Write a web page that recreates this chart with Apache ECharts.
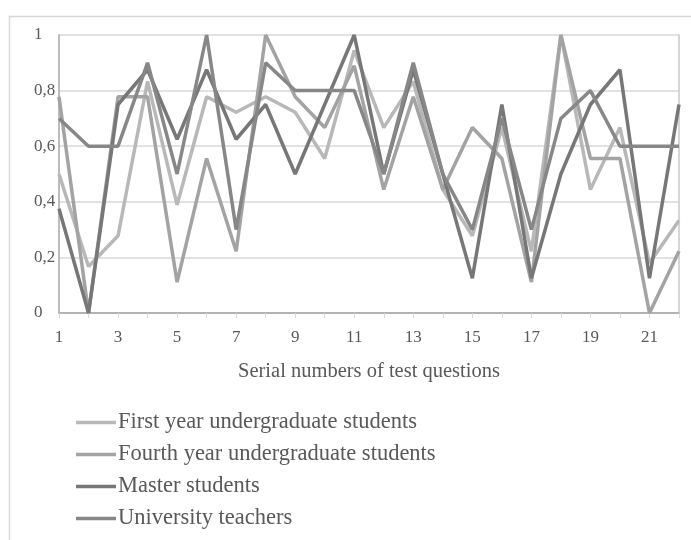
<!DOCTYPE html>
<html>
<head>
<meta charset="utf-8">
<script src="https://cdn.jsdelivr.net/npm/echarts@6/dist/echarts.min.js"></script>
<style>html,body{margin:0;padding:0;background:#fff}#chart{width:691px;height:540px}</style>
</head>
<body>
<div id="chart"></div>
<script>
const categories = ['1','2','3','4','5','6','7','8','9','10','11','12','13','14','15','16','17','18','19','20','21','22'];
const firstYear  = [0.5,0.167,0.278,0.833,0.389,0.778,0.722,0.778,0.722,0.556,0.944,0.667,0.833,0.444,0.278,0.667,0.222,1,0.444,0.667,0.18,0.333];
const fourthYear = [0.778,0,0.778,0.778,0.111,0.556,0.222,1,0.778,0.667,0.889,0.444,0.778,0.444,0.667,0.556,0.111,1,0.556,0.556,0,0.222];
const master     = [0.375,0,0.75,0.875,0.625,0.875,0.625,0.75,0.5,0.75,1,0.5,0.875,0.5,0.125,0.75,0.125,0.5,0.75,0.875,0.125,0.75];
const teachers   = [0.7,0.6,0.6,0.9,0.5,1,0.3,0.9,0.8,0.8,0.8,0.5,0.9,0.5,0.3,0.7,0.3,0.7,0.8,0.6,0.6,0.6];
const seriesNames = ['First year undergraduate students','Fourth year undergraduate students','Master students','University teachers'];
const xTitle = 'Serial numbers of test questions';

const font = "'Liberation Serif', 'DejaVu Serif', serif";
const textColor = '#595959';
const colors = ['#b8b8b8','#a3a3a3','#777777','#878787'];
const dataSets = [firstYear, fourthYear, master, teachers];

const chart = echarts.init(document.getElementById('chart'), null, {renderer:'canvas'});
chart.setOption({
  animation: false,
  backgroundColor: '#ffffff',
  color: colors,
  graphic: [{
    type: 'rect', left: 7, top: 14, silent: true, z: -10,
    shape: {width: 800, height: 700},
    style: {fill: 'none', stroke: '#d9d9d9', lineWidth: 1.5}
  }],
  grid: {left: 59, right: 12, top: 35, bottom: 227, containLabel: false},
  legend: {
    orient: 'vertical', left: 71, top: 405.5,
    itemWidth: 40, itemHeight: 3.5, itemGap: 8,
    icon: 'rect',
    data: seriesNames,
    textStyle: {fontFamily: font, fontSize: 22.5, color: textColor, lineHeight: 24, padding: [0,0,0,-3]}
  },
  xAxis: [{
    type: 'category', data: categories, boundaryGap: false,
    axisLine: {lineStyle: {color: '#d9d9d9', width: 1.5}},
    axisTick: {show: true, interval: 0, length: 5, lineStyle: {color: '#d9d9d9'}},
    axisLabel: {interval: 1, margin: 16, fontFamily: font, fontSize: 17, color: textColor},
    name: xTitle, nameLocation: 'middle', nameGap: 48,
    nameTextStyle: {fontFamily: font, fontSize: 20.5, color: textColor},
    splitLine: {show: false}
  },{
    type: 'category', data: categories, boundaryGap: false, position: 'top',
    axisLine: {lineStyle: {color: '#a6a6a6', width: 1.5}},
    axisTick: {show: false}, axisLabel: {show: false}, splitLine: {show: false}
  }],
  yAxis: [{
    type: 'value', min: 0, max: 1, interval: 0.2,
    axisLine: {show: true, lineStyle: {color: '#a6a6a6', width: 1.5}},
    axisTick: {show: false},
    axisLabel: {align: 'left', margin: 25, fontFamily: font, fontSize: 17, color: textColor,
      formatter: v => String(+v.toFixed(1)).replace('.', ',')},
    splitLine: {lineStyle: {color: '#d9d9d9', width: 1.5}}
  },{
    type: 'value', min: 0, max: 1, interval: 0.2, position: 'right',
    axisLine: {show: true, lineStyle: {color: '#c8c8c8', width: 1.5}},
    axisTick: {show: false}, axisLabel: {show: false}, splitLine: {show: false}
  }],
  series: seriesNames.map((name, i) => ({
    name: name, type: 'line', data: dataSets[i],
    xAxisIndex: 0, yAxisIndex: 0,
    symbol: 'none', lineStyle: {width: 3.5, color: colors[i]},
    itemStyle: {color: colors[i]}
  }))
});
</script>
</body>
</html>
